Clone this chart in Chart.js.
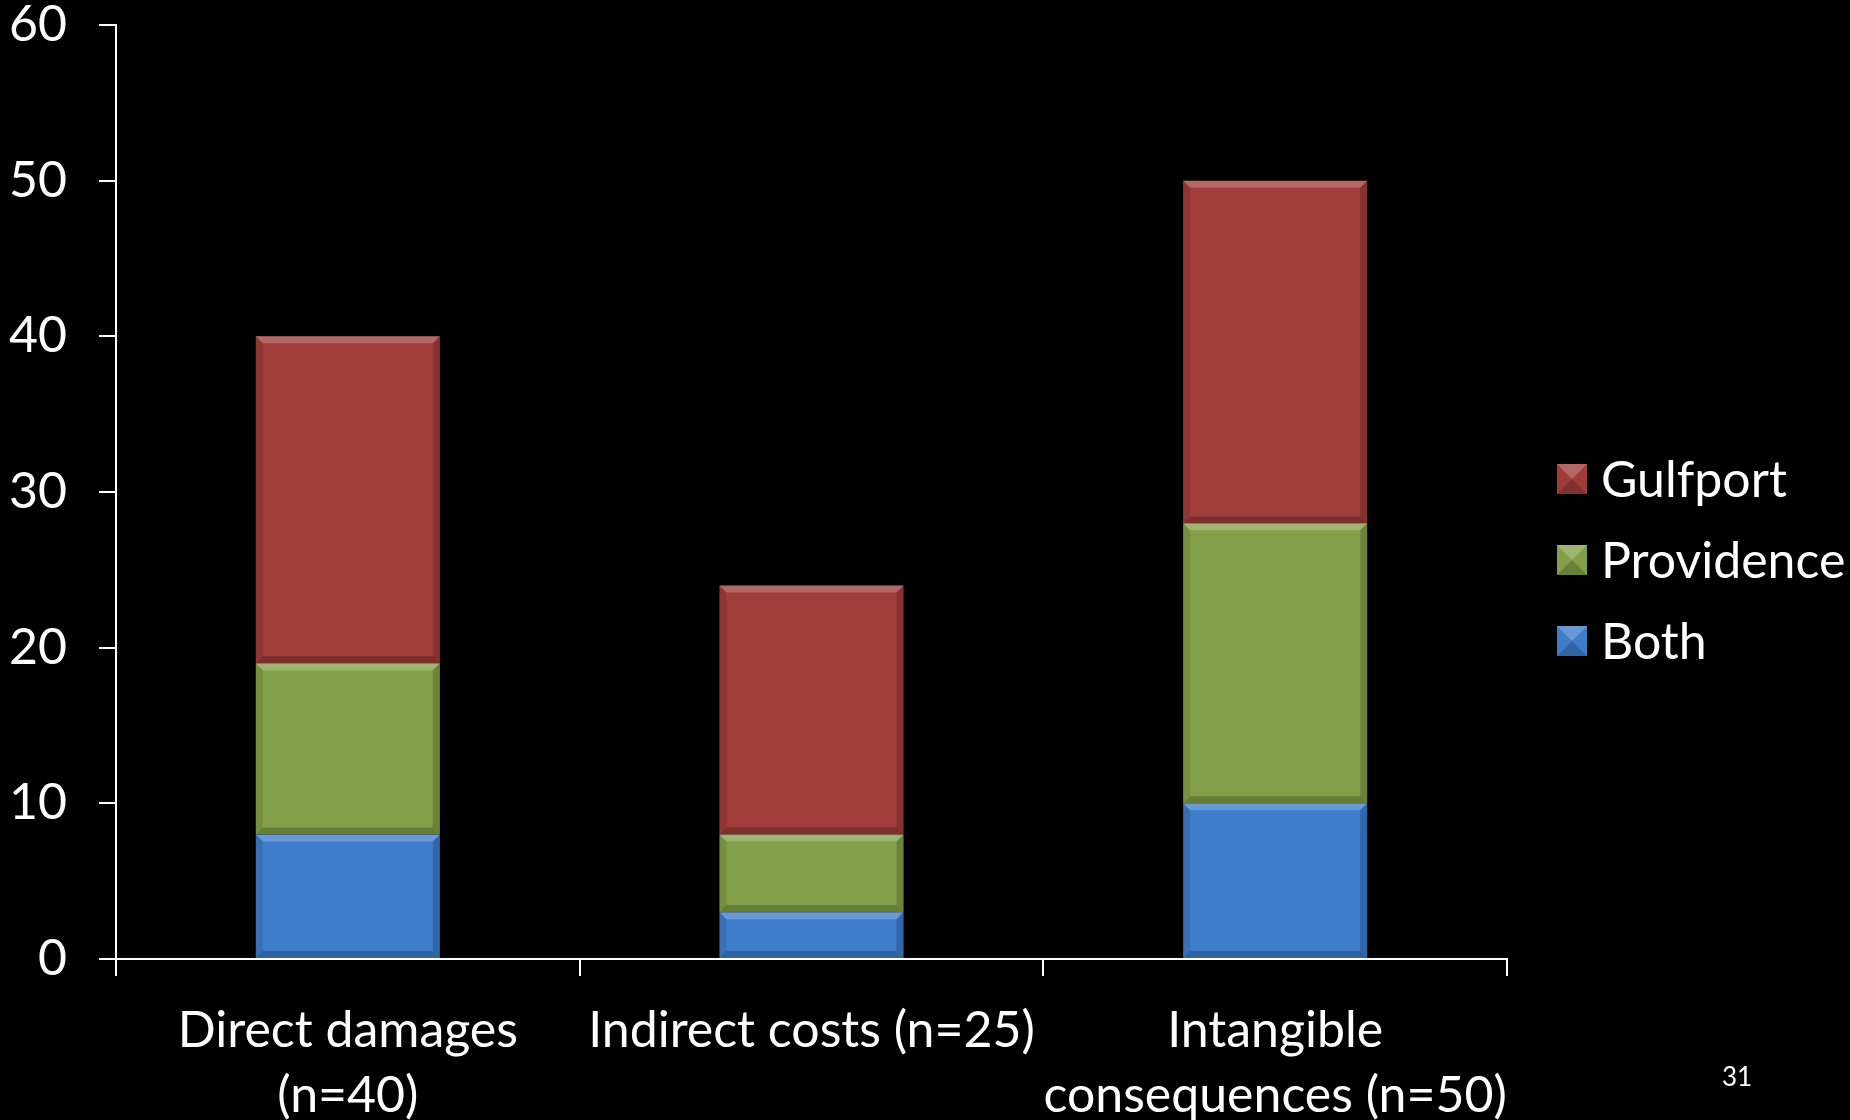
<!DOCTYPE html>
<html lang="en">
<head>
<meta charset="UTF-8">
<title>Damage categories</title>
<script src="https://cdn.jsdelivr.net/npm/chart.js"></script>
<style>
  html, body { margin: 0; padding: 0; background: #000; }
  .wrap { position: relative; width: 1850px; height: 1120px; overflow: hidden; }
  .page-num { position: absolute; left: 1722px; top: 1060px; color: #fff; font: 26px Lato, sans-serif; }
</style>
</head>
<body>
<div class="wrap">
  <canvas id="chart" width="1850" height="1120"></canvas>
  <div class="page-num">31</div>
</div>
<script>
// data
const categories = [['Direct damages', '(n=40)'], 'Indirect costs (n=25)', ['Intangible', 'consequences (n=50)']];
const both = [8, 3, 10];
const providence = [11, 5, 18];
const gulfport = [21, 16, 22];
const yTicks = [0, 10, 20, 30, 40, 50, 60];

const FONT = 'Lato, "Open Sans", sans-serif';
const FS = 50;

// fake the office "bevel" look on each bar
const bevel = {
  id: 'bevel',
  afterDatasetsDraw(chart) {
    const ctx = chart.ctx;
    const b = 7;
    ctx.save();
    chart.data.datasets.forEach((ds, i) => {
      chart.getDatasetMeta(i).data.forEach(bar => {
        const l = bar.x - bar.width / 2, r = bar.x + bar.width / 2;
        const t = Math.min(bar.y, bar.base), btm = Math.max(bar.y, bar.base);
        if (btm - t < 2 * b) return;
        ctx.fillStyle = 'rgba(255,255,255,0.22)';
        ctx.beginPath();
        ctx.moveTo(l, t); ctx.lineTo(r, t); ctx.lineTo(r - b, t + b); ctx.lineTo(l + b, t + b);
        ctx.fill();
        ctx.fillStyle = 'rgba(0,0,0,0.10)';
        ctx.beginPath();
        ctx.moveTo(l, t); ctx.lineTo(l + b, t + b); ctx.lineTo(l + b, btm - b); ctx.lineTo(l, btm);
        ctx.fill();
        ctx.fillStyle = 'rgba(0,0,0,0.18)';
        ctx.beginPath();
        ctx.moveTo(r, t); ctx.lineTo(r - b, t + b); ctx.lineTo(r - b, btm - b); ctx.lineTo(r, btm);
        ctx.fill();
        ctx.fillStyle = 'rgba(0,0,0,0.22)';
        ctx.beginPath();
        ctx.moveTo(l, btm); ctx.lineTo(r, btm); ctx.lineTo(r - b, btm - b); ctx.lineTo(l + b, btm - b);
        ctx.fill();
      });
    });
    ctx.restore();
  }
};

// legend on the right, centred on the whole slide
const sideLegend = {
  id: 'sideLegend',
  afterDraw(chart) {
    const ctx = chart.ctx;
    const items = chart.data.datasets.slice().reverse();
    const x = chart.chartArea.right + 50;
    const mid = chart.height / 2;
    const step = 81;
    ctx.save();
    ctx.font = FS + 'px ' + FONT;
    ctx.textBaseline = 'middle';
    ctx.textAlign = 'left';
    items.forEach((ds, i) => {
      const y = mid + (i - (items.length - 1) / 2) * step;
      ctx.fillStyle = ds.backgroundColor;
      ctx.fillRect(x, y - 15, 30, 30);
      ctx.fillStyle = 'rgba(255,255,255,0.22)';
      ctx.beginPath();
      ctx.moveTo(x, y - 15); ctx.lineTo(x + 30, y - 15); ctx.lineTo(x + 15, y); ctx.fill();
      ctx.fillStyle = 'rgba(0,0,0,0.2)';
      ctx.beginPath();
      ctx.moveTo(x, y + 15); ctx.lineTo(x + 30, y + 15); ctx.lineTo(x + 15, y); ctx.fill();
      ctx.fillStyle = '#fff';
      ctx.fillText(ds.label, x + 44, y + 2);
    });
    ctx.restore();
  }
};

new Chart(document.getElementById('chart'), {
  type: 'bar',
  data: {
    labels: categories,
    datasets: [
      { label: 'Both', data: both, backgroundColor: '#3F7DCB' },
      { label: 'Providence', data: providence, backgroundColor: '#82A048' },
      { label: 'Gulfport', data: gulfport, backgroundColor: '#A03D3B' }
    ]
  },
  options: {
    responsive: false,
    animation: false,
    categoryPercentage: 1,
    barPercentage: 0.397,
    layout: { padding: { left: 0, right: 343, top: 25, bottom: 0 } },
    plugins: { legend: { display: false }, tooltip: { enabled: false } },
    scales: {
      x: {
        stacked: true,
        ticks: { color: '#fff', font: { family: FONT, size: FS, lineHeight: 1.3 }, padding: 22, maxRotation: 0, autoSkip: false },
        grid: { offset: true, drawOnChartArea: false, drawTicks: true, tickLength: 17, color: '#fff', lineWidth: 2 },
        border: { color: '#fff', width: 2 },
        afterFit(s) { s.height = 161; }
      },
      y: {
        stacked: true,
        min: 0,
        max: 60,
        afterBuildTicks(s) { s.ticks = yTicks.map(v => ({ value: v })); },
        ticks: { color: '#fff', font: { family: FONT, size: FS }, padding: 32 },
        grid: { drawOnChartArea: false, drawTicks: true, tickLength: 17, color: '#fff', lineWidth: 2 },
        border: { color: '#fff', width: 2 },
        afterFit(s) { s.width = 116; s.paddingTop = 0; s.paddingBottom = 0; }
      }
    }
  },
  plugins: [bevel, sideLegend]
});
</script>
</body>
</html>
